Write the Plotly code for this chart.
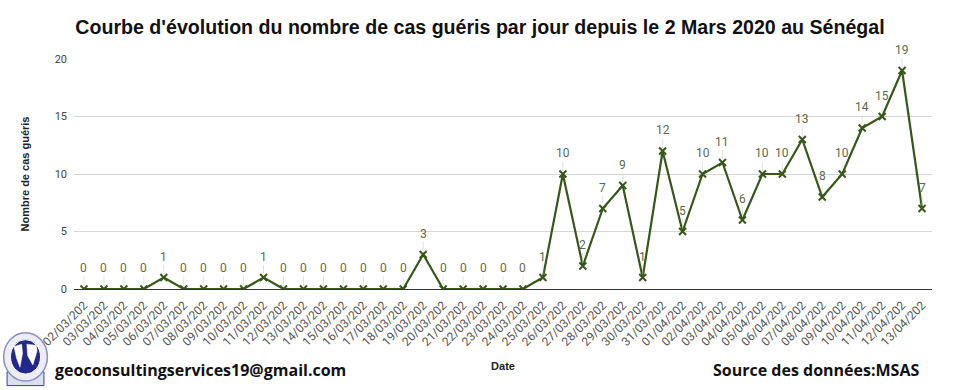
import plotly.graph_objects as go

dates = ["02/03/202", "03/03/202", "04/03/202", "05/03/202", "06/03/202", "07/03/202",
         "08/03/202", "09/03/202", "10/03/202", "11/03/202", "12/03/202", "13/03/202",
         "14/03/202", "15/03/202", "16/03/202", "17/03/202", "18/03/202", "19/03/202",
         "20/03/202", "21/03/202", "22/03/202", "23/03/202", "24/03/202", "25/03/202",
         "26/03/202", "27/03/202", "28/03/202", "29/03/202", "30/03/202", "31/03/202",
         "01/04/202", "02/04/202", "03/04/202", "04/04/202", "05/04/202", "06/04/202",
         "07/04/202", "08/04/202", "09/04/202", "10/04/202", "11/04/202", "12/04/202",
         "13/04/202"]
gueris = [0, 0, 0, 0, 1, 0, 0, 0, 0, 1, 0, 0, 0, 0, 0, 0, 0, 3, 0, 0, 0, 0, 0, 1,
          10, 2, 7, 9, 1, 12, 5, 10, 11, 6, 10, 10, 13, 8, 10, 14, 15, 19, 7]
y_ticks = [0, 5, 10, 15, 20]

title = "Courbe d'évolution du nombre de cas guéris par jour depuis le 2 Mars 2020 au Sénégal"
line_color = "#38571a"
label_color = "#5c6b4c"

fig = go.Figure()
fig.add_trace(go.Scatter(
    x=dates, y=gueris, mode="lines+markers",
    line=dict(color=line_color, width=2.2),
    marker=dict(symbol="x-thin", size=7, line=dict(color=line_color, width=2)),
    hoverinfo="x+y", showlegend=False,
))

for d, v in zip(dates, gueris):
    fig.add_annotation(
        x=d, y=v, text=str(v), showarrow=True, arrowhead=0, arrowwidth=1,
        arrowcolor="rgba(205,205,205,0.55)", ax=0, ay=-21, standoff=3,
        font=dict(family="Roboto", size=12, color=label_color),
    )

fig.update_layout(
    width=960, height=390,
    margin=dict(l=74, r=28, t=59, b=101),
    paper_bgcolor="white", plot_bgcolor="white",
    title=dict(text=title, x=0.5, xanchor="center", y=0.93, yanchor="middle",
               font=dict(family="Liberation Sans", size=19.6, color="#111111", weight="bold")),
    xaxis=dict(
        type="category", range=[-0.5, len(dates) - 0.5],
        tickangle=-45, tickfont=dict(family="Roboto", size=12, color="#555555"),
        showgrid=False, showline=False, ticks="", zeroline=False, ticklabelstandoff=6,
        title=dict(text="Date", font=dict(family="Liberation Sans", size=11, color="#222222", weight="bold"),
                   standoff=14),
    ),
    yaxis=dict(
        range=[0, 20], tickvals=y_ticks,
        tickfont=dict(family="Roboto", size=11, color="#444444"),
        showgrid=True, gridcolor="#d6d6d6", gridwidth=1,
        zeroline=True, zerolinecolor="#333333", zerolinewidth=1.2,
        showline=False, ticks="", ticklabelstandoff=6,
        title=dict(text="Nombre de cas guéris",
                   font=dict(family="Liberation Sans", size=11, color="#222222", weight="bold"),
                   standoff=22),
    ),
)

# footer texts
fig.add_annotation(xref="paper", yref="paper", x=-0.024, y=-0.352, xanchor="left", yanchor="middle",
                   text="geoconsultingservices19@gmail.com", showarrow=False,
                   font=dict(family="Open Sans", size=16, color="#111111", weight=700))
fig.add_annotation(xref="paper", yref="paper", x=0.987, y=-0.352, xanchor="right", yanchor="middle",
                   text="Source des données:MSAS", showarrow=False,
                   font=dict(family="Open Sans", size=16, color="#111111", weight=700))

# simple logo emblem (globe on a base)
fig.add_shape(type="rect", xref="paper", yref="paper", layer="above",
              x0=-0.078, x1=-0.035, y0=-0.42, y1=-0.36,
              line=dict(color="#3a3f8f", width=1), fillcolor="#dcdff0")
fig.add_shape(type="circle", xref="paper", yref="paper", layer="above",
              x0=-0.082, x1=-0.031, y0=-0.40, y1=-0.19,
              line=dict(color="#8a90c0", width=1.5), fillcolor="#ecedf6")
fig.add_shape(type="circle", xref="paper", yref="paper", layer="above",
              x0=-0.074, x1=-0.039, y0=-0.37, y1=-0.22,
              line=dict(color="white", width=1), fillcolor="#23288a")
fig.add_shape(type="path", xref="paper", yref="paper", layer="above",
              path="M -0.070 -0.25 L -0.061 -0.24 L -0.060 -0.28 L -0.063 -0.34 L -0.067 -0.30 Z",
              line=dict(color="white", width=0.5), fillcolor="white")
fig.add_shape(type="path", xref="paper", yref="paper", layer="above",
              path="M -0.055 -0.24 L -0.044 -0.245 L -0.043 -0.27 L -0.048 -0.33 L -0.054 -0.29 Z",
              line=dict(color="white", width=0.5), fillcolor="white")

fig.write_html("out.html", post_script="document.body.style.margin='0';",
               config={"displayModeBar": False})
